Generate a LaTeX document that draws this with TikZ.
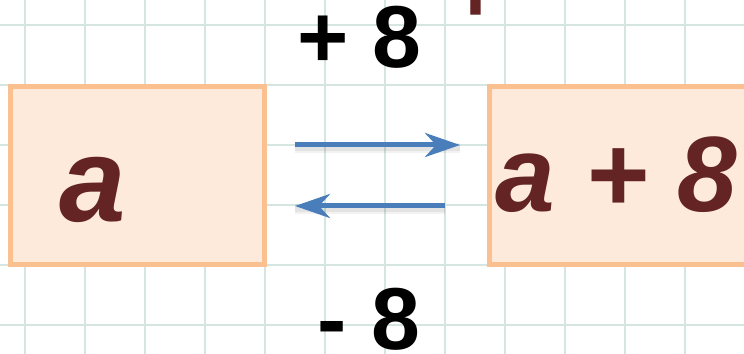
\documentclass[tikz,border=0pt]{standalone}
\usepackage{fontspec}
\setmainfont{Liberation Sans}
\usetikzlibrary{arrows.meta, positioning}
\definecolor{boxfill}{HTML}{FDEADA}
\definecolor{boxline}{HTML}{FAC090}
\definecolor{arrowblue}{HTML}{4A7EBB}
\definecolor{exprred}{HTML}{632423}
\definecolor{gridgreen}{HTML}{D5E5DF}

\begin{document}
\begin{tikzpicture}[
    x=0.02cm, y=0.02cm,
    gridline/.style={draw=gridgreen, line width=1.1pt},
    blk/.style={draw=boxline, fill=boxfill, line width=0.1cm, minimum height=3.58cm,
                inner sep=0pt, outer sep=0pt},
    expr/.style={text=exprred, font=\fontsize{#1}{#1}\selectfont\bfseries\itshape, inner sep=0pt},
    ttl/.style={text=exprred, font=\fontsize{43}{43}\selectfont\bfseries, inner sep=0pt},
    sign/.style={font=\fontsize{50}{50}\selectfont\bfseries, inner sep=0pt},
    arr/.style={-{Stealth[length=0.7cm, width=0.48cm, inset=0.22cm]}, draw=arrowblue,
                line width=0.1cm,
                preaction={draw=black, opacity=0.05, line width=0.2cm, arrows=-,
                           transform canvas={yshift=-0.07cm}},
                preaction={draw=black, opacity=0.06, line width=0.12cm, arrows=-,
                           transform canvas={yshift=-0.07cm}}},
  ]
    \useasboundingbox (0,0) rectangle (744,354);
    \clip (0,0) rectangle (744,354);
    \fill[white] (0,0) rectangle (744,354);

    % Grid paper
    \foreach \gx in {25,85,...,745} \draw[gridline] (\gx,0) -- (\gx,354);
    \foreach \gy in {29,89,...,329} \draw[gridline] (0,\gy) -- (744,\gy);

    % Title, cut off by the top edge
    \node[ttl, anchor=base west] (title) at (346,354) {Выражение};

    % Boxes
    \node[blk, minimum width=5.1cm]  (boxa) at (137.5,178.5) {};
    \node[blk, minimum width=5.24cm] (boxb) at (620.5,178.5) {};
    \node[expr=68, anchor=base] (vara) at (92.5,132) {a};
    \node[expr=61, anchor=base] (varb) at (616.5,142) {a + 8};

    % Arrows there and back
    \draw[arr] ([shift={(30,30.5)}]boxa.east) -- ([shift={(-29.5,30.5)}]boxb.west);
    \draw[arr] ([shift={(-44.5,-30.5)}]boxb.west) -- ([shift={(30,-30.5)}]boxa.east);
    \node[sign, anchor=base] (plus)  at (359.5,286) {+ 8};
    \node[sign, anchor=base] (minus) at (369,4)     {- 8};
\end{tikzpicture}
\end{document}
